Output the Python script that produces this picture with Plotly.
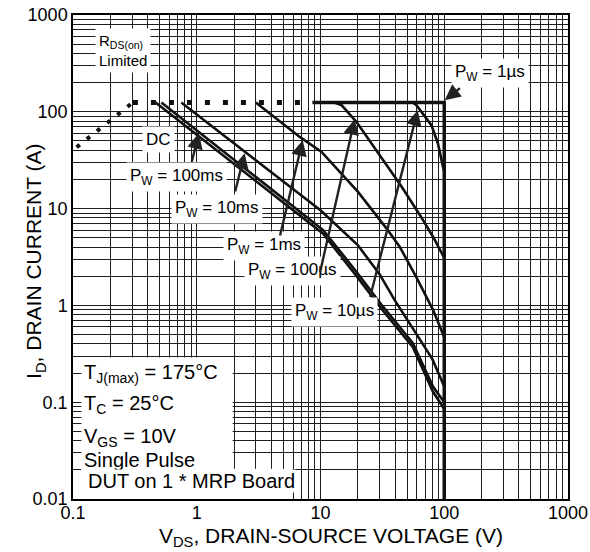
import math
import plotly.graph_objects as go

# ---- data (V_DS in volts, I_D in amperes) ----
rds_diag_v = [0.107, 0.2, 0.305]
rds_diag_i = [43, 82, 125]
rds_flat_v = [0.305, 8.6]
rds_flat_i = [125, 125]

p1us_v = [8.6, 100, 100]
p1us_i = [125, 125, 0.01]

p10us_v = [56, 59.6, 78.7, 88.9, 97.7, 100]
p10us_i = [125, 117, 72.8, 47.1, 27, 24]

p100us_v = [13.0, 14.8, 19.5, 30, 45, 65, 82, 100]
p100us_i = [125, 117, 78.8, 36, 17, 8.2, 5.0, 3.1]

p1ms_v = [3, 6.8, 10.2, 20.1, 34.1, 43.6, 59.6, 81.1, 100]
p1ms_i = [125, 55, 38.5, 14.9, 6.25, 4.04, 1.95, 0.9, 0.47]

p10ms_v = [0.75, 6.8, 10, 20, 30, 40, 60, 80, 100]
p10ms_i = [125, 13.8, 9.6, 4.2, 2.1, 1.12, 0.5, 0.28, 0.145]

p100ms_v = [0.518, 5.64, 10.5, 19.5, 32, 55.8, 81.1, 100]
p100ms_i = [125, 11.3, 6.0, 2.23, 0.97, 0.407, 0.145, 0.1]

dc_v = [0.465, 5.64, 10.5, 19.5, 32, 55.8, 81.1, 100]
dc_i = [125, 10.3, 5.5, 2.02, 0.88, 0.37, 0.128, 0.085]

x_ticks = [0.1, 1, 10, 100, 1000]
x_ticktext = ["0.1", "1", "10", "100", "1000"]
y_ticks = [0.01, 0.1, 1, 10, 100, 1000]
y_ticktext = ["0.01", "0.1", "1", "10", "100", "1000"]

FONT = "Arial, Liberation Sans, Helvetica, sans-serif"
LINE = "#111111"
GRID = "#1e1e1e"

fig = go.Figure()

fig.add_trace(go.Scatter(x=rds_diag_v, y=rds_diag_i, mode="lines",
                         line=dict(color=LINE, width=4, dash="4px,9px"),
                         hoverinfo="skip"))
fig.add_trace(go.Scatter(x=rds_flat_v, y=rds_flat_i, mode="lines",
                         line=dict(color=LINE, width=5, dash="5px,13px"),
                         hoverinfo="skip"))
for vx, iy, w in [(p1us_v, p1us_i, 3.5), (p10us_v, p10us_i, 2.6),
                  (p100us_v, p100us_i, 2.6), (p1ms_v, p1ms_i, 2.6),
                  (p10ms_v, p10ms_i, 2.6), (p100ms_v, p100ms_i, 2.6),
                  (dc_v, dc_i, 2.6)]:
    fig.add_trace(go.Scatter(x=vx, y=iy, mode="lines",
                             line=dict(color=LINE, width=w), hoverinfo="skip"))

L = math.log10

def label(text, x, y, size=17, xanchor="center", align="center", pad=3):
    fig.add_annotation(text=text, x=L(x), y=L(y), xref="x", yref="y",
                       showarrow=False, bgcolor="white", borderpad=pad,
                       xanchor=xanchor, align=align,
                       font=dict(family=FONT, size=size, color="black"))

def arrow(tip, tail):
    fig.add_annotation(text="", x=L(tip[0]), y=L(tip[1]),
                       ax=L(tail[0]), ay=L(tail[1]), axref="x", ayref="y",
                       xref="x", yref="y", showarrow=True, arrowhead=2,
                       arrowsize=1.3, arrowwidth=2.4, arrowcolor="#222222",
                       standoff=0)

# labels on curves
label("R<sub>DS(on)</sub><br>Limited", 0.15, 433, size=15, xanchor="left", align="left")
label("DC", 0.493, 52)
label("P<sub>W</sub> = 100ms", 0.689, 21.1)
label("P<sub>W</sub> = 10ms", 1.46, 9.92)
label("P<sub>W</sub> = 1ms", 3.47, 4.1)
label("P<sub>W</sub> = 100µs", 5.96, 2.25)
label("P<sub>W</sub> = 10µs", 13.0, 0.849)
label("P<sub>W</sub> = 1µs", 233, 250)

arrow((1.04, 60), (0.905, 29.5))
arrow((2.44, 37.4), (2.03, 14.5))
arrow((7.18, 50.9), (4.68, 5.08))
arrow((18.9, 84), (9.87, 2.14))
arrow((61.1, 104), (25, 1.18))
arrow((101, 132), (137.7, 180.7))

# condition box (white background)
fig.add_shape(type="rect", xref="x", yref="y", x0=0.117, x1=1.95, y0=0.01, y1=0.29,
              fillcolor="white", line=dict(width=0), layer="above")
fig.add_shape(type="rect", xref="x", yref="y", x0=0.117, x1=5.9, y0=0.01, y1=0.0205,
              fillcolor="white", line=dict(width=0), layer="above")
label("T<sub>J(max)</sub> = 175°C", 0.12, 0.2, size=20, xanchor="left", align="left", pad=0)
label("T<sub>C</sub> = 25°C", 0.12, 0.094, size=20, xanchor="left", align="left", pad=0)
label("V<sub>GS</sub> = 10V", 0.12, 0.0435, size=20, xanchor="left", align="left", pad=0)
label("Single Pulse", 0.12, 0.0252, size=20, xanchor="left", align="left", pad=0)
label("DUT on 1 * MRP Board", 0.129, 0.0152, size=20, xanchor="left", align="left", pad=0)

minor_x = [k * 10 ** e for e in range(-1, 3) for k in range(2, 10)]
minor_y = [k * 10 ** e for e in range(-2, 3) for k in range(2, 10)]

axis_common = dict(type="log", showgrid=True, gridcolor=GRID, gridwidth=1,
                   showline=True, linecolor="black", linewidth=1.5, mirror=True,
                   ticks="", zeroline=False,
                   tickfont=dict(family=FONT, size=18, color="black"))

fig.update_xaxes(range=[-1, 3], tickvals=x_ticks, ticktext=x_ticktext,
                 ticklabelstandoff=-3,
                 minor=dict(tickvals=minor_x, showgrid=True, gridcolor=GRID,
                            gridwidth=1, ticks=""),
                 **axis_common)
fig.update_yaxes(range=[-2, 3], tickvals=y_ticks, ticktext=y_ticktext,
                 minor=dict(tickvals=minor_y, showgrid=True, gridcolor=GRID,
                            gridwidth=1, ticks=""),
                 **axis_common)

fig.add_annotation(text="I<sub>D</sub>, DRAIN CURRENT (A)", xref="paper", yref="paper",
                   x=-0.106, y=0.491, textangle=-90, showarrow=False,
                   font=dict(family=FONT, size=21, color="black"))
fig.add_annotation(text="V<sub>DS</sub>, DRAIN-SOURCE VOLTAGE (V)", xref="paper",
                   yref="paper", x=0.522, y=-0.079, showarrow=False,
                   xanchor="center", yanchor="middle",
                   font=dict(family=FONT, size=21, color="black"))

fig.update_layout(width=590, height=552, showlegend=False,
                  margin=dict(l=73, r=22, t=15, b=53, autoexpand=False),
                  paper_bgcolor="white", plot_bgcolor="white",
                  font=dict(family=FONT, color="black"))

fig.write_html("out.html")
